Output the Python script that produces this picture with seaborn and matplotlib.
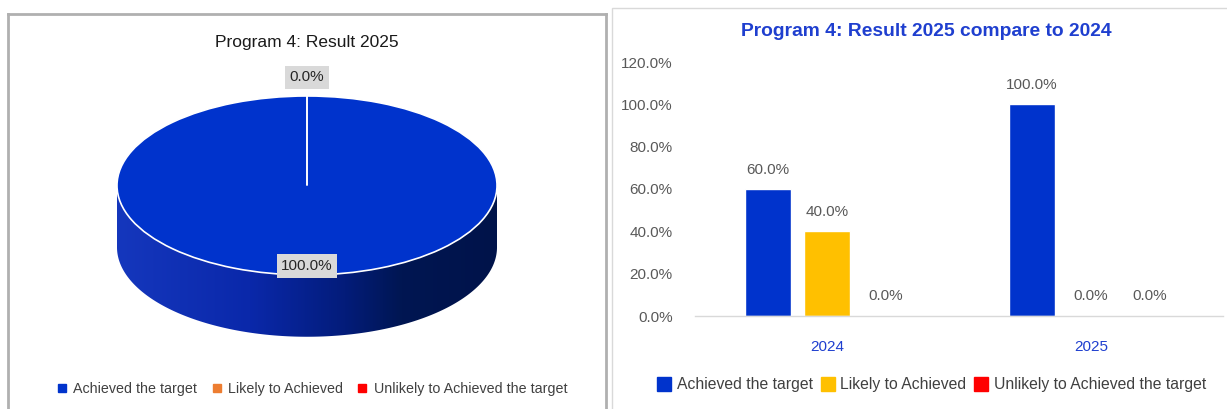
import numpy as np
import pandas as pd
import matplotlib
matplotlib.use("Agg")
import matplotlib.pyplot as plt
import seaborn as sns
from matplotlib.patches import Polygon, Rectangle
from matplotlib.lines import Line2D
from matplotlib.colors import LinearSegmentedColormap
from matplotlib.ticker import FuncFormatter

# ---- data ----
statuses = ["Achieved the target", "Likely to Achieved", "Unlikely to Achieved the target"]
pie_values = [100.0, 0.0, 0.0]
pie_colors = ["#0033CC", "#ED7D31", "#FF0000"]
years = ["2024", "2025"]
vals_2024 = [60.0, 40.0, 0.0]
vals_2025 = [100.0, 0.0, 0.0]
bar_colors = ["#0033CC", "#FFC000", "#FF0000"]
yticks = [0, 20, 40, 60, 80, 100, 120]

sns.set_theme(style="white")
plt.rcParams["font.family"] = ["Liberation Sans", "DejaVu Sans"]

W, H = 1227, 409
fig = plt.figure(figsize=(W / 100, H / 100), dpi=100)


def fx(px):
    return px / W


def fy(py):
    return 1 - py / H


# ---- left panel: 3D-style pie ----
box_l, box_r, box_t, box_b = 8, 606, 14, 420
cx, cy, ra, rb = 307, 185.5, 190, 89.5
ax_pie = fig.add_axes([fx(box_l), fy(box_b), fx(box_r) - fx(box_l), fy(box_t) - fy(box_b)])

wedges, _ = ax_pie.pie(pie_values, colors=pie_colors, startangle=90, counterclock=False,
                       radius=1, wedgeprops=dict(edgecolor="white", linewidth=1.2))
for w in wedges:
    w.set_zorder(2)

# cylinder side under the front half of the top face
depth = 0.69
t = np.linspace(np.pi, 2 * np.pi, 300)
rim = np.column_stack([np.cos(t), np.sin(t)])
bottom = rim[::-1].copy()
bottom[:, 1] -= depth
side = Polygon(np.vstack([rim, bottom]), closed=True, facecolor="none", edgecolor="none")
ax_pie.add_patch(side)
side_cmap = LinearSegmentedColormap.from_list(
    "side", [(0.0, "#1537bd"), (0.35, "#0a28aa"), (0.6, "#031c7a"), (0.75, "#001652"), (1.0, "#00134a")])
grad = np.linspace(0, 1, 256).reshape(1, -1)
im = ax_pie.imshow(grad, extent=[-1, 1, -1 - depth, 0], cmap=side_cmap, aspect="auto",
                   interpolation="bicubic", zorder=1)
im.set_clip_path(side)

# value labels at each slice's middle angle
for w, v in zip(wedges, pie_values):
    mid = np.deg2rad((w.theta1 + w.theta2) / 2)
    r = 0.9 if v > 0 else 1.21
    ax_pie.text(r * np.cos(mid), r * np.sin(mid), f"{v:.1f}%", ha="center", va="center",
                fontsize=11, color="#262626", zorder=5,
                bbox=dict(boxstyle="square,pad=0.3", fc="#d9d9d9", ec="none"))

ax_pie.set_aspect("auto")
ax_pie.set_xlim((box_l - cx) / ra, (box_r - cx) / ra)
ax_pie.set_ylim((cy - box_b) / rb, (cy - box_t) / rb)
ax_pie.set_frame_on(True)
for sp in ax_pie.spines.values():
    sp.set_visible(True)
    sp.set_color("#b0b0b0")
    sp.set_linewidth(2)
ax_pie.set_xticks([])
ax_pie.set_yticks([])

fig.text(fx(307), fy(42), "Program 4: Result 2025", ha="center", va="center", fontsize=12.5,
         color="#1a1a1a", family=["Liberation Sans Narrow", "Liberation Sans", "DejaVu Sans"])

pie_handles = [Line2D([], [], marker="s", linestyle="none", markersize=6, color=c) for c in pie_colors]
fig.legend(pie_handles, statuses, loc="center", bbox_to_anchor=(fx(312.5), fy(389)), ncol=3,
           frameon=False, fontsize=10.3, handletextpad=0.5, columnspacing=1.05,
           labelcolor="#404040", handlelength=0.6)

# ---- right panel: grouped bars ----
fig.patches.append(Rectangle((fx(612), fy(420)), fx(1240) - fx(612), fy(8) - fy(420),
                             transform=fig.transFigure, fill=False, edgecolor="#d9d9d9", lw=1))

ax_bar = fig.add_axes([fx(695), fy(316), fx(1223) - fx(695), fy(62) - fy(316)])
df = pd.DataFrame({
    "year": np.repeat(years, len(statuses)),
    "status": statuses * len(years),
    "value": vals_2024 + vals_2025,
})
sns.barplot(data=df, x="year", y="value", hue="status", hue_order=statuses, palette=bar_colors,
            saturation=1, width=0.67, gap=0.22, legend=False, ax=ax_bar)
for cont in ax_bar.containers:
    ax_bar.bar_label(cont, labels=[f"{v:.1f}%" for v in cont.datavalues], padding=9,
                     fontsize=11, color="#595959")

ax_bar.set_xlim(-0.5, 1.5)
ax_bar.set_ylim(0, 120)
ax_bar.set_yticks(yticks)
ax_bar.yaxis.set_major_formatter(FuncFormatter(lambda v, p: f"{v:.1f}%"))
ax_bar.tick_params(axis="y", length=0, pad=16, labelsize=11, labelcolor="#595959")
ax_bar.tick_params(axis="x", length=0, pad=17, labelsize=11, labelcolor="#1f3fcf")
ax_bar.set_xlabel("")
ax_bar.set_ylabel("")
for side_name in ["left", "right", "top"]:
    ax_bar.spines[side_name].set_visible(False)
ax_bar.spines["bottom"].set_color("#d9d9d9")
ax_bar.spines["bottom"].set_linewidth(1)

fig.text(fx(926), fy(31), "Program 4: Result 2025 compare to 2024", ha="center", va="center",
         fontsize=13.9, fontweight="bold", color="#1f3fcf")

bar_handles = [Line2D([], [], marker="s", linestyle="none", markersize=10, color=c) for c in bar_colors]
fig.legend(bar_handles, statuses, loc="center", bbox_to_anchor=(fx(931.5), fy(385)), ncol=3,
           frameon=False, fontsize=11.3, handletextpad=0.35, columnspacing=0.5,
           labelcolor="#404040", handlelength=0.9)

fig.savefig("out.png", dpi=100)
